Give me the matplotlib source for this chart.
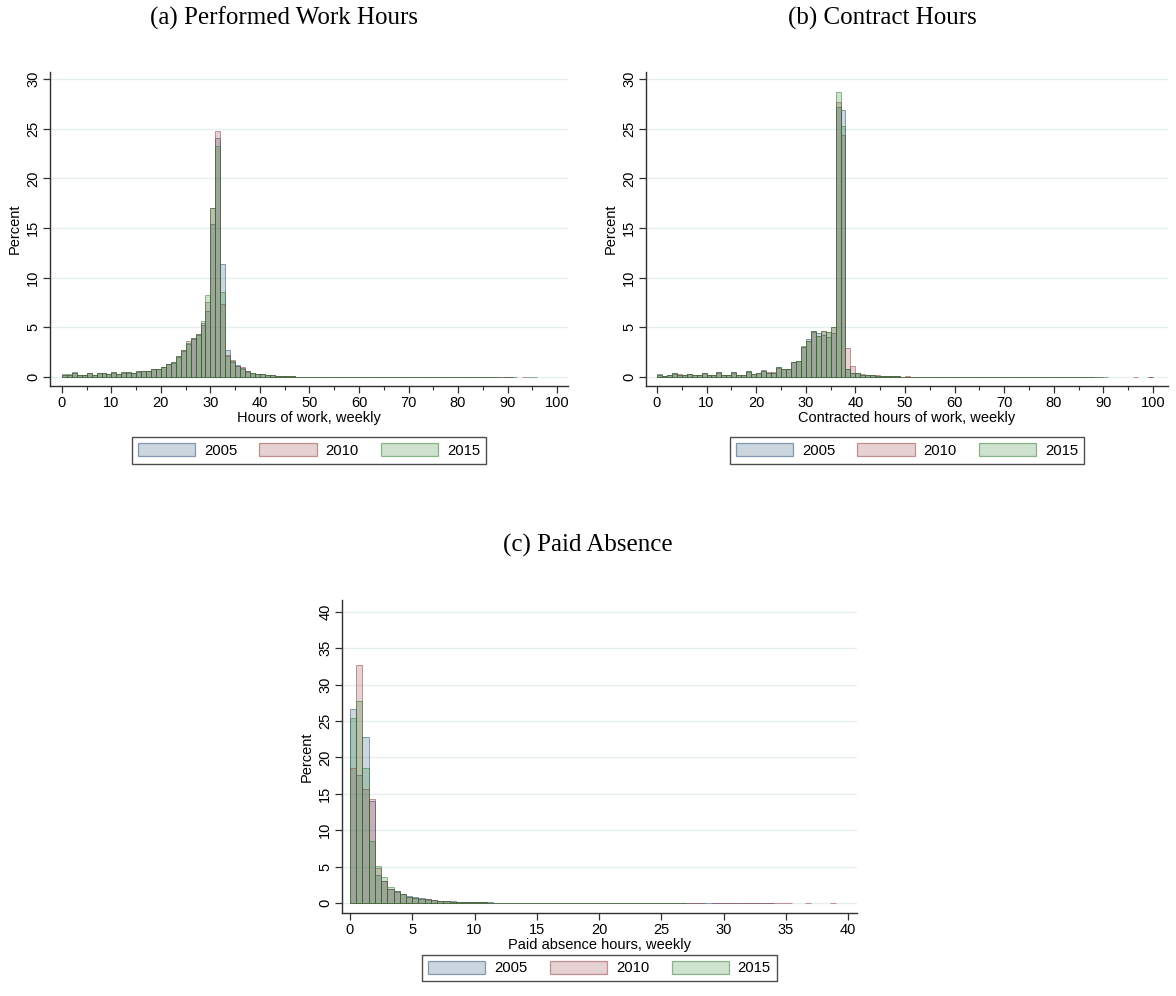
import numpy as np
import matplotlib
matplotlib.use("Agg")
import matplotlib.pyplot as plt
from matplotlib.colors import to_rgba
from matplotlib.patches import Patch
from matplotlib.ticker import MultipleLocator

plt.rcParams['font.family'] = ['Liberation Sans', 'DejaVu Sans']

years = ["2005", "2010", "2015"]
year_colors = ["#1a476f", "#90353b", "#287828"]

# ---------------- Panel (a): performed work hours, bins of 1 hour starting at 0
a_bin_width = 1.0
a_2005 = [0.25, 0.25, 0.5, 0.2, 0.2, 0.45, 0.2, 0.4, 0.4, 0.3, 0.5, 0.3, 0.45, 0.45, 0.4, 0.55, 0.6, 0.62, 0.8, 0.82,
          1.0, 1.3, 1.45, 2.0, 2.6, 3.3, 3.8, 4.2, 5.2, 6.6, 15.4, 24.1, 11.4, 2.75, 1.5, 1.2, 0.9, 0.6, 0.45, 0.35,
          0.28, 0.22, 0.18, 0.15, 0.12, 0.1,
          0.06, 0.05, 0.05, 0.04, 0.05, 0.04, 0.04, 0.03, 0.03, 0.04, 0.03, 0.03, 0.03, 0.03, 0.04, 0.03, 0.03, 0.03,
          0.02, 0.03, 0.02, 0.02, 0.02, 0.02, 0.03, 0.02, 0.02, 0.02, 0.02, 0.02, 0.02, 0.02, 0.02, 0.01, 0.02, 0.01,
          0.02, 0.01, 0.01, 0.02, 0.01, 0.01, 0.01, 0.01, 0.01, 0.01, 0.0, 0.0, 0.0, 0.0]
a_2010 = [0.25, 0.25, 0.45, 0.2, 0.22, 0.4, 0.22, 0.38, 0.38, 0.3, 0.45, 0.32, 0.48, 0.47, 0.42, 0.57, 0.6, 0.63, 0.8, 0.84,
          1.05, 1.35, 1.5, 2.1, 2.7, 3.6, 3.95, 4.3, 5.4, 7.6, 17.0, 24.8, 7.4, 2.2, 1.7, 1.1, 1.0, 0.6, 0.45, 0.35,
          0.28, 0.22, 0.18, 0.14, 0.12, 0.1,
          0.06, 0.05, 0.05, 0.05, 0.04, 0.04, 0.04, 0.04, 0.03, 0.03, 0.03, 0.03, 0.04, 0.03, 0.03, 0.03, 0.03, 0.02,
          0.03, 0.02, 0.02, 0.02, 0.02, 0.02, 0.02, 0.02, 0.02, 0.02, 0.02, 0.02, 0.01, 0.02, 0.01, 0.02, 0.02, 0.01,
          0.01, 0.01, 0.02, 0.01, 0.01, 0.01, 0.01, 0.02, 0.01, 0.0, 0.0, 0.01, 0.0, 0.0]
a_2015 = [0.27, 0.27, 0.42, 0.2, 0.2, 0.42, 0.22, 0.4, 0.36, 0.3, 0.47, 0.33, 0.5, 0.48, 0.43, 0.57, 0.6, 0.63, 0.82, 0.84,
          1.05, 1.35, 1.55, 2.15, 2.7, 3.45, 3.9, 4.35, 5.6, 8.3, 17.0, 23.3, 8.6, 2.1, 1.6, 1.1, 0.85, 0.55, 0.42, 0.33,
          0.27, 0.2, 0.17, 0.14, 0.11, 0.09,
          0.06, 0.05, 0.05, 0.04, 0.04, 0.04, 0.04, 0.03, 0.03, 0.03, 0.03, 0.03, 0.03, 0.03, 0.03, 0.03, 0.03, 0.03,
          0.02, 0.02, 0.02, 0.02, 0.02, 0.02, 0.02, 0.02, 0.02, 0.02, 0.02, 0.02, 0.02, 0.02, 0.02, 0.01, 0.01, 0.02,
          0.01, 0.01, 0.01, 0.02, 0.01, 0.01, 0.0, 0.01, 0.01, 0.0, 0.0, 0.0, 0.01, 0.01]

# ---------------- Panel (b): contract hours, bins of 1 hour starting at 0
b_bin_width = 1.0
b_2005 = [0.27, 0.1, 0.2, 0.4, 0.2, 0.23, 0.35, 0.2, 0.2, 0.4, 0.2, 0.2, 0.5, 0.23, 0.23, 0.47, 0.2, 0.2, 0.6, 0.33,
          0.37, 0.7, 0.45, 0.43, 1.04, 0.77, 0.77, 1.54, 1.64,
          3.05, 3.85, 4.6, 4.4, 4.2, 4.0, 4.4, 27.2, 26.9, 0.8, 0.45, 0.4, 0.25, 0.22, 0.22, 0.15, 0.15,
          0.1, 0.08, 0.06, 0.05, 0.05, 0.04, 0.04, 0.03, 0.03, 0.03, 0.03, 0.03, 0.03, 0.02, 0.02, 0.02, 0.02, 0.02,
          0.02, 0.02, 0.02, 0.02, 0.02, 0.02, 0.02, 0.02, 0.02, 0.02, 0.01, 0.02, 0.01, 0.01, 0.01, 0.01, 0.01, 0.01,
          0.01, 0.01, 0.01, 0.01, 0.01, 0.01, 0.0, 0.0, 0.0, 0.0, 0.0, 0.0, 0.0, 0.0, 0.0, 0.0, 0.0, 0.01]
b_2010 = [0.2, 0.1, 0.2, 0.35, 0.27, 0.23, 0.3, 0.2, 0.2, 0.38, 0.2, 0.2, 0.45, 0.23, 0.23, 0.45, 0.2, 0.2, 0.55, 0.33,
          0.37, 0.6, 0.52, 0.5, 0.9, 0.83, 0.77, 1.5, 1.6,
          3.05, 3.6, 4.5, 4.1, 4.6, 4.5, 5.05, 27.7, 24.4, 2.95, 1.1, 0.4, 0.27, 0.25, 0.23, 0.17, 0.15,
          0.1, 0.12, 0.06, 0.05, 0.08, 0.04, 0.04, 0.03, 0.03, 0.03, 0.03, 0.03, 0.02, 0.02, 0.02, 0.02, 0.02, 0.02,
          0.02, 0.02, 0.02, 0.02, 0.02, 0.02, 0.02, 0.02, 0.02, 0.02, 0.02, 0.01, 0.01, 0.01, 0.01, 0.01, 0.01, 0.01,
          0.01, 0.01, 0.02, 0.01, 0.01, 0.01, 0.02, 0.02, 0.0, 0.0, 0.0, 0.0, 0.0, 0.0, 0.02, 0.0, 0.0, 0.02]
b_2015 = [0.25, 0.1, 0.2, 0.38, 0.2, 0.23, 0.33, 0.2, 0.2, 0.4, 0.2, 0.2, 0.47, 0.23, 0.23, 0.47, 0.2, 0.2, 0.6, 0.33,
          0.37, 0.62, 0.43, 0.43, 1.0, 0.77, 0.77, 1.56, 1.64,
          3.1, 3.6, 4.6, 4.1, 4.65, 4.5, 5.05, 28.7, 25.3, 0.85, 0.45, 0.4, 0.25, 0.22, 0.22, 0.15, 0.15,
          0.1, 0.08, 0.06, 0.05, 0.05, 0.04, 0.04, 0.03, 0.03, 0.03, 0.03, 0.03, 0.03, 0.02, 0.02, 0.02, 0.02, 0.02,
          0.02, 0.02, 0.02, 0.02, 0.02, 0.02, 0.02, 0.02, 0.02, 0.02, 0.01, 0.02, 0.01, 0.01, 0.01, 0.01, 0.01, 0.01,
          0.01, 0.01, 0.01, 0.01, 0.01, 0.01, 0.01, 0.01, 0.02, 0.0, 0.0, 0.0, 0.0, 0.0, 0.0, 0.0, 0.0, 0.0]

# ---------------- Panel (c): paid absence, bins of 0.5 hour starting at 0
c_bin_width = 0.5
c_2005 = [26.6, 17.6, 22.8, 14.0, 3.9, 3.0, 1.9, 1.6, 1.3, 1.0, 0.8, 0.65, 0.55, 0.45, 0.33, 0.27, 0.22, 0.18,
          0.15, 0.13, 0.11, 0.1, 0.09, 0.08,
          0.07, 0.06, 0.06, 0.05, 0.05, 0.05, 0.04, 0.04, 0.04, 0.04, 0.04, 0.03, 0.03, 0.03, 0.03, 0.03, 0.03,
          0.03, 0.03, 0.03, 0.03, 0.03, 0.02, 0.02, 0.02, 0.02, 0.02, 0.02, 0.02, 0.02,
          0.02, 0.02, 0.02, 0.02,
          0.02, 0.02, 0.02, 0.02, 0.02, 0.02, 0.02, 0.02, 0.02, 0.02,
          0.0, 0.0, 0.0, 0.0,
          0.0, 0.0, 0.0, 0.0, 0.0, 0.0]
c_2010 = [18.5, 32.7, 15.7, 14.3, 4.8, 3.0, 2.0, 1.5, 1.2, 0.9, 0.75, 0.6, 0.5, 0.4, 0.3, 0.25, 0.2, 0.17,
          0.14, 0.12, 0.1, 0.09, 0.08, 0.07,
          0.07, 0.06, 0.06, 0.05, 0.05, 0.05, 0.04, 0.04, 0.04, 0.04, 0.03, 0.03, 0.03, 0.03, 0.03, 0.03, 0.03,
          0.03, 0.03, 0.03, 0.03, 0.02, 0.02, 0.02, 0.02, 0.02, 0.02, 0.02, 0.02, 0.02,
          0.02, 0.02, 0.02, 0.0,
          0.02, 0.02, 0.02, 0.02, 0.02, 0.02, 0.02, 0.02, 0.02, 0.02,
          0.02, 0.02, 0.02, 0.0,
          0.0, 0.02, 0.0, 0.0, 0.0, 0.02]
c_2015 = [25.4, 27.7, 18.5, 8.5, 5.1, 3.6, 2.2, 1.6, 1.2, 0.9, 0.7, 0.58, 0.45, 0.38, 0.28, 0.24, 0.2, 0.16,
          0.14, 0.12, 0.1, 0.09, 0.08, 0.07,
          0.07, 0.06, 0.06, 0.05, 0.05, 0.05, 0.04, 0.04, 0.04, 0.04, 0.04, 0.03, 0.03, 0.03, 0.03, 0.03, 0.03,
          0.03, 0.03, 0.03, 0.03, 0.03, 0.02, 0.02, 0.02, 0.02, 0.02, 0.02, 0.02, 0.02,
          0.0, 0.0, 0.0, 0.0,
          0.0, 0.0, 0.0, 0.0, 0.0, 0.0, 0.0, 0.0, 0.0, 0.0,
          0.0, 0.0, 0.0, 0.0,
          0.0, 0.0, 0.0, 0.0, 0.0, 0.0]

FILL_ALPHA = 0.22
EDGE_ALPHA = 0.5
GRID_COLOR = "#e6eff0"
SPINE_COLOR = "#303030"

W, H = 1176, 996
fig = plt.figure(figsize=(W / 100, H / 100), dpi=100)
fig.patch.set_facecolor("white")


def px_axes(left, top, right, bottom):
    return fig.add_axes([left / W, 1 - bottom / H, (right - left) / W, (bottom - top) / H])


def draw_panel(ax, series, bin_width, xlim, ylim, xmajor, xminor, ymajor, xlabel, legend_y):
    for vals, col in zip(series, year_colors):
        vals = np.asarray(vals, dtype=float)
        left_edges = np.arange(len(vals)) * bin_width
        keep = vals > 0
        ax.bar(left_edges[keep], vals[keep], width=bin_width, align="edge",
               facecolor=to_rgba(col, FILL_ALPHA), edgecolor=to_rgba(col, EDGE_ALPHA),
               linewidth=0.7, zorder=2)
    ax.set_xlim(*xlim)
    ax.set_ylim(*ylim)
    ax.xaxis.set_major_locator(MultipleLocator(xmajor))
    if xminor:
        ax.xaxis.set_minor_locator(MultipleLocator(xminor))
    ax.yaxis.set_major_locator(MultipleLocator(ymajor))
    ax.set_axisbelow(True)
    ax.grid(axis="y", which="major", color=GRID_COLOR, linewidth=1.0, zorder=0)
    for s in ("top", "right"):
        ax.spines[s].set_visible(False)
    for s in ("left", "bottom"):
        ax.spines[s].set_color(SPINE_COLOR)
        ax.spines[s].set_linewidth(1.0)
    ax.tick_params(axis="both", which="major", length=5, width=0.9, color=SPINE_COLOR,
                   labelsize=10.5, labelcolor="black", pad=2)
    ax.tick_params(axis="x", which="minor", length=3, width=0.8, color=SPINE_COLOR)
    for lab in ax.get_yticklabels():
        lab.set_rotation(90)
        lab.set_va("center")
    ax.set_xlabel(xlabel, fontsize=10.5, labelpad=1)
    ax.set_ylabel("Percent", fontsize=10.5, labelpad=3)
    handles = [Patch(facecolor=to_rgba(c, FILL_ALPHA), edgecolor=to_rgba(c, EDGE_ALPHA), linewidth=0.9)
               for c in year_colors]
    leg = ax.legend(handles, years, loc="center", bbox_to_anchor=(0.5, legend_y), ncol=3,
                    frameon=True, fancybox=False, fontsize=10.7, handlelength=3.85, handleheight=0.95,
                    columnspacing=1.5, handletextpad=0.6, borderpad=0.4, borderaxespad=0)
    leg.get_frame().set_edgecolor("#202020")
    leg.get_frame().set_linewidth(1.0)


ax_a = px_axes(50, 72, 568, 386)
draw_panel(ax_a, [a_2005, a_2010, a_2015], a_bin_width, (-2.4, 102.2), (-0.9, 30.7),
           10, 5, 5, "Hours of work, weekly", -0.205)

ax_b = px_axes(646, 72, 1168, 386)
draw_panel(ax_b, [b_2005, b_2010, b_2015], b_bin_width, (-2.2, 103.0), (-0.9, 30.7),
           10, 5, 5, "Contracted hours of work, weekly", -0.205)

ax_c = px_axes(342, 600, 857, 913)
draw_panel(ax_c, [c_2005, c_2010, c_2015], c_bin_width, (-0.64, 40.7), (-1.36, 41.6),
           5, None, 5, "Paid absence hours, weekly", -0.176)

title_kw = dict(fontsize=18, family=["Liberation Serif", "DejaVu Serif"], ha="center", va="center")
fig.text(284 / W, 1 - 18 / H, "(a) Performed Work Hours", **title_kw)
fig.text(882 / W, 1 - 18 / H, "(b) Contract Hours", **title_kw)
fig.text(588 / W, 1 - 545 / H, "(c) Paid Absence", **title_kw)

fig.savefig("out.png", dpi=100, facecolor="white")
